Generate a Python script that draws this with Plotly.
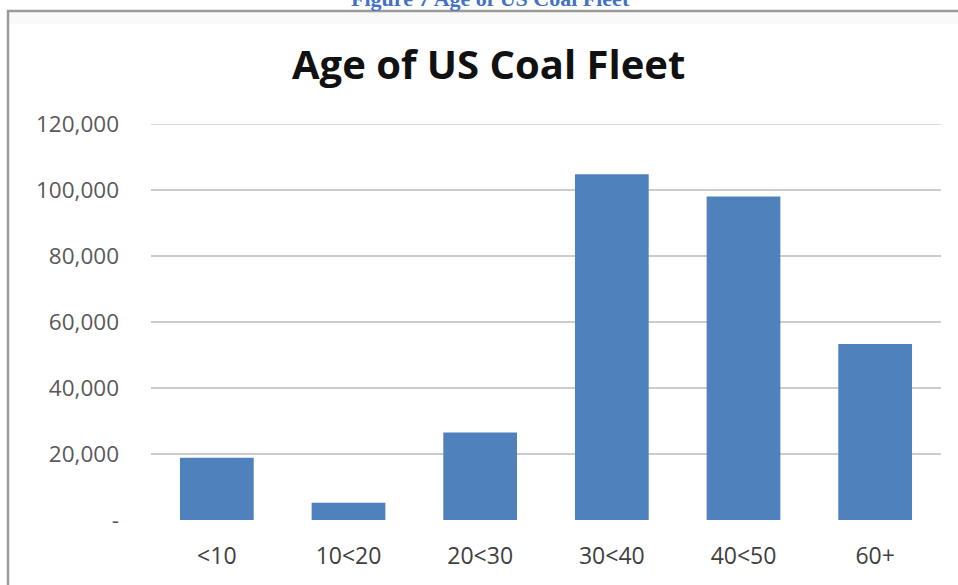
import plotly.graph_objects as go

categories = ["<10", "10<20", "20<30", "30<40", "40<50", "60+"]
capacity = [18900, 5200, 26500, 104800, 98000, 53300]
y_tickvals = [0, 20000, 40000, 60000, 80000, 100000, 120000]
y_ticktext = ["-", "20,000", "40,000", "60,000", "80,000", "100,000", "120,000"]

W, H = 958, 585
L, R, T, B = 151, 17, 124, 65
pw, ph = W - L - R, H - T - B

def px(x):
    return (x - L) / pw

def py(y):
    return (H - B - y) / ph

fig = go.Figure()
fig.add_trace(go.Bar(
    x=categories, y=capacity,
    marker=dict(color="#4F81BD", line=dict(width=0)),
))

fig.update_layout(
    width=W, height=H,
    margin=dict(l=L, r=R, t=T, b=B),
    paper_bgcolor="white", plot_bgcolor="white",
    bargap=0.44,
    showlegend=False,
    font=dict(family="Open Sans", color="#595959"),
    xaxis=dict(
        showgrid=False, zeroline=False, showline=False,
        tickfont=dict(size=23, color="#404040"),
        ticklabelstandoff=20,
    ),
    yaxis=dict(
        range=[0, 120000],
        tickvals=y_tickvals, ticktext=y_ticktext,
        showgrid=True, gridcolor="#cccccc", gridwidth=1.5,
        zeroline=False, showline=False,
        tickfont=dict(size=22.5, color="#595959"),
        ticklabelstandoff=31,
    ),
    shapes=[
        dict(type="rect", xref="paper", yref="paper",
             x0=px(9), x1=px(990), y0=py(12), y1=py(24),
             line=dict(width=0), fillcolor="#f9f9f9", layer="below"),
        dict(type="rect", xref="paper", yref="paper",
             x0=px(8), x1=px(990), y0=py(11), y1=py(620),
             line=dict(color="#9a9a9a", width=2.5), fillcolor="rgba(0,0,0,0)", layer="below"),
        dict(type="line", xref="paper", yref="y",
             x0=0, x1=1, y0=120000, y1=120000,
             line=dict(color="#cccccc", width=1.5), layer="below"),
    ],
    annotations=[
        dict(text="<b>Age of US Coal Fleet</b>", xref="paper", yref="paper",
             x=px(488), y=py(64), xanchor="center", yanchor="middle", showarrow=False,
             font=dict(family="Open Sans", size=40, color="#111111")),
        dict(text="<b>Figure 7 Age of US Coal Fleet</b>", xref="paper", yref="paper",
             x=px(490), y=py(-1), xanchor="center", yanchor="middle", showarrow=False,
             font=dict(family="Liberation Serif", size=22, color="#4472C4")),
    ],
)

fig.write_html("out.html")
